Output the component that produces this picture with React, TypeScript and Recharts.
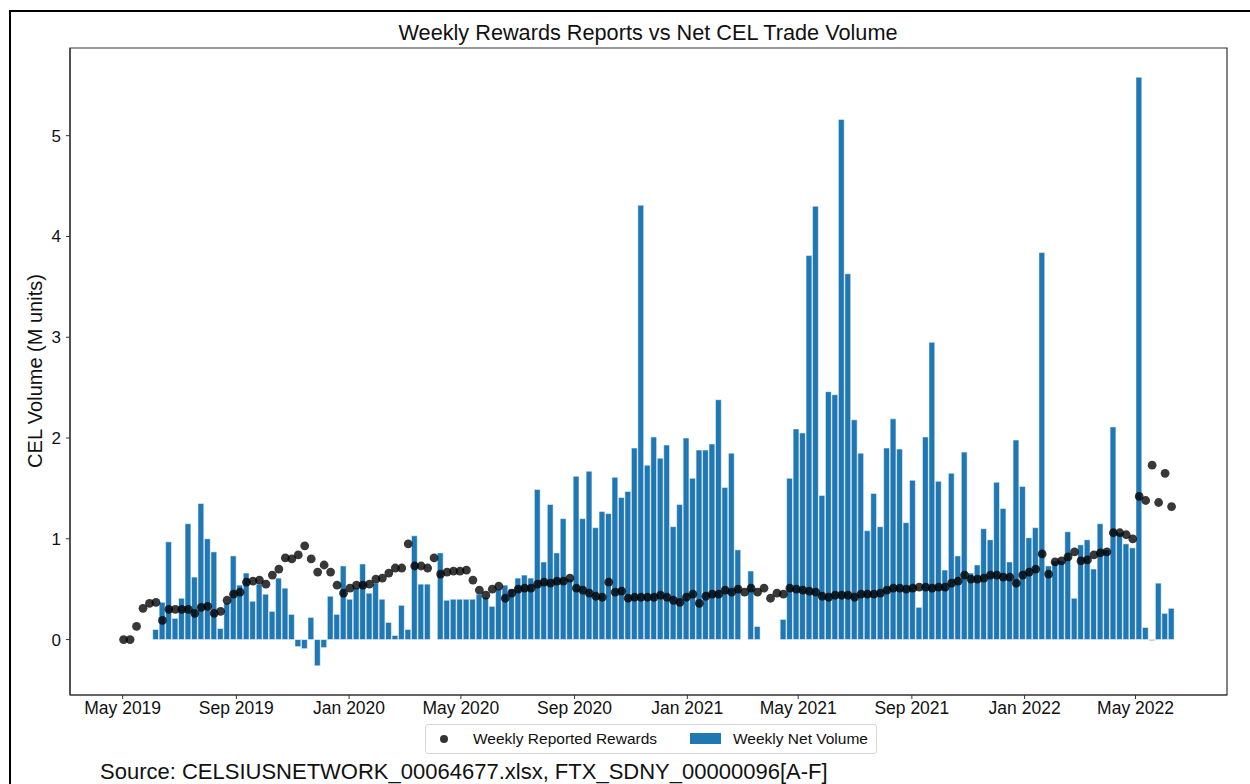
import { ComposedChart, Bar, Scatter, XAxis, YAxis, ReferenceArea } from 'recharts'

// weekly series, first week = 2 May 2019
const firstWeek = Date.UTC(2019, 4, 2)
const axisOrigin = Date.UTC(2019, 4, 1)
const DAY = 86400000

const rewards2019 = [0.0, 0.0, 0.13, 0.31, 0.36, 0.37, 0.19, 0.3, 0.3, 0.3, 0.3, 0.26, 0.32, 0.33, 0.26, 0.28, 0.39, 0.45, 0.47, 0.57, 0.58, 0.59, 0.55, 0.64, 0.7, 0.81, 0.8, 0.84, 0.93, 0.8, 0.67, 0.74, 0.67, 0.54, 0.46]
const rewards2020 = [0.51, 0.54, 0.54, 0.55, 0.6, 0.61, 0.66, 0.71, 0.71, 0.95, 0.73, 0.73, 0.71, 0.81, 0.65, 0.67, 0.68, 0.68, 0.69, 0.59, 0.49, 0.44, 0.5, 0.53, 0.41, 0.46, 0.5, 0.51, 0.51, 0.55, 0.57, 0.56, 0.58, 0.58, 0.61, 0.51, 0.49, 0.46, 0.43, 0.42, 0.57, 0.47, 0.48, 0.41, 0.42, 0.42, 0.42, 0.42, 0.44, 0.42, 0.39, 0.37, 0.42]
const rewards2021 = [0.45, 0.36, 0.43, 0.45, 0.45, 0.49, 0.47, 0.5, 0.47, 0.51, 0.47, 0.51, 0.41, 0.46, 0.45, 0.51, 0.5, 0.49, 0.48, 0.47, 0.43, 0.42, 0.44, 0.44, 0.44, 0.42, 0.45, 0.45, 0.45, 0.46, 0.49, 0.51, 0.51, 0.5, 0.51, 0.52, 0.52, 0.51, 0.52, 0.52, 0.56, 0.58, 0.64, 0.6, 0.6, 0.61, 0.64, 0.64, 0.62, 0.62, 0.56, 0.64]
const rewards2022 = [0.67, 0.7, 0.85, 0.65, 0.77, 0.78, 0.82, 0.87, 0.78, 0.79, 0.84, 0.86, 0.87, 1.06, 1.06, 1.04, 1.0, 1.42, 1.38, 1.73, 1.36, 1.65, 1.32]

const volume2019 = [null, null, null, null, null, 0.1, 0.37, 0.97, 0.21, 0.41, 1.15, 0.62, 1.35, 1.0, 0.87, 0.11, 0.36, 0.83, 0.54, 0.66, 0.38, 0.55, 0.45, 0.28, 0.61, 0.51, 0.25, -0.07, -0.09, 0.22, -0.26, -0.08, 0.43, 0.25, 0.73]
const volume2020 = [0.4, 0.51, 0.75, 0.46, 0.56, 0.4, 0.17, 0.04, 0.34, 0.1, 1.03, 0.55, 0.55, null, 0.86, 0.39, 0.4, 0.4, 0.4, 0.4, 0.45, 0.42, 0.33, 0.5, 0.54, 0.5, 0.61, 0.64, 0.61, 1.49, 0.77, 1.34, 0.86, 1.2, 0.6, 1.62, 1.2, 1.67, 1.11, 1.27, 1.25, 1.61, 1.41, 1.47, 1.9, 4.31, 1.73, 2.01, 1.8, 1.93, 1.12, 1.34, 2.0]
const volume2021 = [1.6, 1.88, 1.88, 1.94, 2.38, 1.51, 1.85, 0.89, null, 0.68, 0.13, null, null, null, 0.2, 1.6, 2.09, 2.05, 3.81, 4.3, 1.43, 2.46, 2.43, 5.16, 3.63, 2.18, 1.85, 1.08, 1.45, 1.12, 1.9, 2.19, 1.89, 1.16, 1.58, 0.32, 2.01, 2.95, 1.57, 0.69, 1.65, 0.83, 1.86, 0.66, 0.74, 1.1, 0.99, 1.56, 1.3, 0.77, 1.98, 1.52]
const volume2022 = [1.01, 1.11, 3.84, 0.73, 0.78, 0.78, 1.07, 0.41, 0.94, 0.99, 0.7, 1.15, 0.89, 2.11, 1.06, 0.95, 0.91, 5.58, 0.12, -0.01, 0.56, 0.26, 0.31]

const tickDates = [[2019, 4], [2019, 8], [2020, 0], [2020, 4], [2020, 8], [2021, 0], [2021, 4], [2021, 8], [2022, 0], [2022, 4]]
const tickLabels = ['May 2019', 'Sep 2019', 'Jan 2020', 'May 2020', 'Sep 2020', 'Jan 2021', 'May 2021', 'Sep 2021', 'Jan 2022', 'May 2022']
const yTicks = [0, 1, 2, 3, 4, 5]

const rewards = [...rewards2019, ...rewards2020, ...rewards2021, ...rewards2022]
const volume = [...volume2019, ...volume2020, ...volume2021, ...volume2022]
const startDay = (firstWeek - axisOrigin) / DAY

const data = rewards.map((r, i) => ({
  t: startDay + 7 * i,
  reward: r,
  volume: volume[i],
}))

const xTicks = tickDates.map(([y, m]) => (Date.UTC(y, m, 1) - axisOrigin) / DAY)
const xDomain = [-57, 1195]
const yDomain = [-0.55, 5.87]

const FONT = '"Liberation Sans", Arial, sans-serif'
const frame = '#333'

const Dot = (props: any) => (
  <circle cx={props.cx} cy={props.cy} r={4.4} fill="#000" fillOpacity={0.78} />
)

export default function App() {
  return (
    <div style={{ position: 'absolute', left: 0, top: 0, width: 1250, height: 784, background: '#fff', fontFamily: FONT, overflow: 'hidden' }}>
      <div style={{ position: 'absolute', left: 9, top: 10, width: 1241, height: 2, background: '#000' }} />
      <div style={{ position: 'absolute', left: 9, top: 10, width: 2, height: 774, background: '#000' }} />

      <div style={{ position: 'absolute', left: 648, top: 33, transform: 'translate(-50%, -50%)', fontSize: 21.7, color: '#111', whiteSpace: 'nowrap' }}>
        Weekly Rewards Reports vs Net CEL Trade Volume
      </div>
      <div style={{ position: 'absolute', left: 35, top: 371, transform: 'translate(-50%, -50%) rotate(-90deg)', fontSize: 20, color: '#111', whiteSpace: 'nowrap' }}>
        CEL Volume (M units)
      </div>

      <ComposedChart
        width={1250}
        height={784}
        data={data}
        margin={{ top: 48, right: 23, bottom: 59, left: 20 }}
        style={{ position: 'absolute', left: 0, top: 0 }}
      >
        <XAxis
          dataKey="t"
          type="number"
          domain={xDomain}
          allowDataOverflow
          ticks={xTicks}
          interval={0}
          tickFormatter={(v: number) => tickLabels[xTicks.indexOf(v)] ?? ''}
          height={30}
          tickSize={4}
          tickMargin={3}
          axisLine={{ stroke: frame, strokeWidth: 1.2 }}
          tickLine={{ stroke: frame }}
          tick={{ fill: '#111', fontSize: 17.5, fontFamily: FONT }}
        />
        <YAxis
          type="number"
          domain={yDomain}
          allowDataOverflow
          ticks={yTicks}
          interval={0}
          width={50}
          tickSize={4}
          tickMargin={5}
          axisLine={{ stroke: frame, strokeWidth: 1.2 }}
          tickLine={{ stroke: frame }}
          tick={{ fill: '#111', fontSize: 17, fontFamily: FONT }}
        />
        <ReferenceArea x1={xDomain[0]} x2={xDomain[1]} y1={yDomain[0]} y2={yDomain[1]} fill="none" stroke={frame} strokeWidth={1.2} />
        <Bar dataKey="volume" fill="#1f77b4" stroke="#fff" strokeWidth={0.5} barSize={5.8} isAnimationActive={false} />
        <Scatter dataKey="reward" shape={Dot} isAnimationActive={false} />
      </ComposedChart>

      <div style={{ position: 'absolute', left: 425, top: 724, width: 452, height: 30, boxSizing: 'border-box', border: '1px solid #d6d6d6', borderRadius: 3, fontSize: 15.5, color: '#111' }}>
        <svg width={452} height={30} style={{ position: 'absolute', left: -1, top: -1 }}>
          <circle cx={19} cy={15} r={4} fill="#000" fillOpacity={0.8} />
          <rect x={265} y={9} width={31} height={11} fill="#1f77b4" />
        </svg>
        <span style={{ position: 'absolute', left: 47, top: 5, whiteSpace: 'nowrap' }}>Weekly Reported Rewards</span>
        <span style={{ position: 'absolute', left: 307, top: 5, whiteSpace: 'nowrap' }}>Weekly Net Volume</span>
      </div>

      <div style={{ position: 'absolute', left: 100, top: 759, fontSize: 22, color: '#111', whiteSpace: 'nowrap' }}>
        Source: CELSIUSNETWORK_00064677.xlsx, FTX_SDNY_00000096[A-F]
      </div>
    </div>
  )
}
